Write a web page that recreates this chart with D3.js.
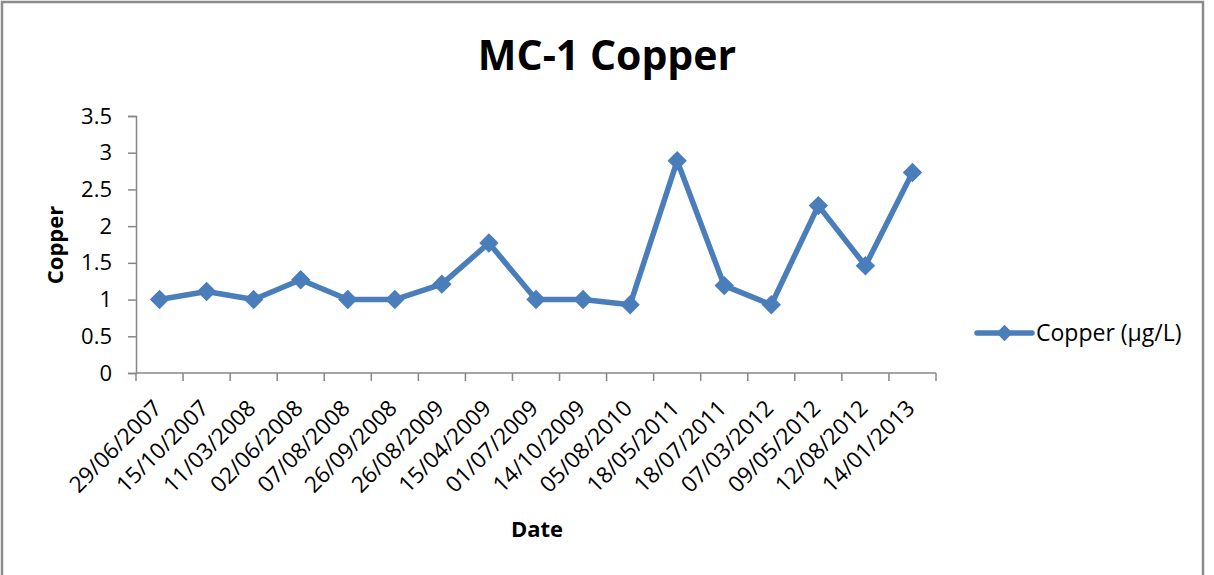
<!DOCTYPE html>
<html>
<head>
<meta charset="utf-8">
<script src="https://cdn.jsdelivr.net/npm/d3@7"></script>
<style>
  body { margin: 0; background: #fff; }
  svg { display: block; font-family: "Open Sans", sans-serif; }
</style>
</head>
<body>
<svg width="1214" height="575"></svg>
<script>
var dates = ["29/06/2007", "15/10/2007", "11/03/2008", "02/06/2008", "07/08/2008",
  "26/09/2008", "26/08/2009", "15/04/2009", "01/07/2009", "14/10/2009", "05/08/2010",
  "18/05/2011", "18/07/2011", "07/03/2012", "09/05/2012", "12/08/2012", "14/01/2013"];
var copper = [1, 1.11, 1, 1.27, 1, 1, 1.21, 1.77, 1, 1, 0.93, 2.89, 1.19, 0.93, 2.28, 1.46, 2.73];
var yTicks = [0, 0.5, 1, 1.5, 2, 2.5, 3, 3.5];

var blue = "#4a7ebb",
  axisColor = "#868686";

var svg = d3.select("svg");

// chart frame
svg.append("rect")
  .attr("x", 2).attr("y", 2)
  .attr("width", 1201).attr("height", 590)
  .attr("fill", "none")
  .attr("stroke", "#8c8c8c")
  .attr("stroke-width", 2.5);

var plotL = 136, plotR = 936, plotT = 116, plotB = 373;

var x = d3.scaleBand().domain(dates).range([plotL, plotR]);
var y = d3.scaleLinear().domain([0, 3.5]).range([plotB, plotT]);

// title
svg.append("text")
  .attr("x", 607).attr("y", 70)
  .attr("text-anchor", "middle")
  .attr("font-size", 41).attr("font-weight", "bold")
  .text("MC-1 Copper");

// y axis
var yAxis = svg.append("g")
  .attr("transform", "translate(" + plotL + ",0)")
  .call(d3.axisLeft(y).tickValues(yTicks).tickSize(8).tickPadding(16)
    .tickFormat(function(d) { return d; }));
yAxis.select(".domain").attr("stroke", axisColor).attr("stroke-width", 1.5);
yAxis.selectAll(".tick line").attr("stroke", axisColor).attr("stroke-width", 1.5);
yAxis.selectAll(".tick text").attr("font-size", 22).attr("fill", "#000")
  .attr("font-family", "'Open Sans', sans-serif");

// x axis: ticks at band edges
var xAxis = svg.append("g").attr("transform", "translate(0," + plotB + ")");
xAxis.append("line")
  .attr("x1", plotL).attr("x2", plotR)
  .attr("stroke", axisColor).attr("stroke-width", 1.5);
var edges = dates.map(function(d) { return x(d); }).concat([plotR]);
xAxis.selectAll("line.tick").data(edges).enter().append("line")
  .attr("class", "tick")
  .attr("x1", function(d) { return d; }).attr("x2", function(d) { return d; })
  .attr("y1", 0).attr("y2", 8)
  .attr("stroke", axisColor).attr("stroke-width", 1.5);
xAxis.selectAll("text").data(dates).enter().append("text")
  .attr("transform", function(d) {
    return "translate(" + (x(d) + x.bandwidth() / 2 - 2) + ",31) rotate(-45)";
  })
  .attr("text-anchor", "end")
  .attr("dy", "0.35em")
  .attr("font-size", 22.5)
  .text(function(d) { return d; });

// axis titles
svg.append("text")
  .attr("transform", "translate(63,245) rotate(-90)")
  .attr("text-anchor", "middle")
  .attr("font-size", 22).attr("font-weight", "bold")
  .text("Copper");
svg.append("text")
  .attr("x", 537).attr("y", 537)
  .attr("text-anchor", "middle")
  .attr("font-size", 22).attr("font-weight", "bold")
  .text("Date");

// series
var line = d3.line()
  .x(function(d, i) { return x(dates[i]) + x.bandwidth() / 2; })
  .y(function(d) { return y(d); });

svg.append("path")
  .datum(copper)
  .attr("d", line)
  .attr("fill", "none")
  .attr("stroke", blue)
  .attr("stroke-width", 5.5)
  .attr("stroke-linejoin", "round");

var diamond = d3.symbol().type(d3.symbolDiamond2).size(240);
svg.selectAll("path.marker").data(copper).enter().append("path")
  .attr("class", "marker")
  .attr("d", diamond)
  .attr("transform", function(d, i) {
    return "translate(" + (x(dates[i]) + x.bandwidth() / 2) + "," + y(d) + ")";
  })
  .attr("fill", blue);

// legend
var legend = svg.append("g").attr("transform", "translate(977,333)");
legend.append("line")
  .attr("x1", 0).attr("x2", 55)
  .attr("stroke", blue).attr("stroke-width", 5.5).attr("stroke-linecap", "round");
legend.append("path")
  .attr("d", d3.symbol().type(d3.symbolDiamond2).size(170))
  .attr("transform", "translate(27.5,0)")
  .attr("fill", blue);
legend.append("text")
  .attr("x", 59).attr("dy", "0.35em")
  .attr("font-size", 23)
  .text("Copper (\u00b5g/L)");
</script>
</body>
</html>
